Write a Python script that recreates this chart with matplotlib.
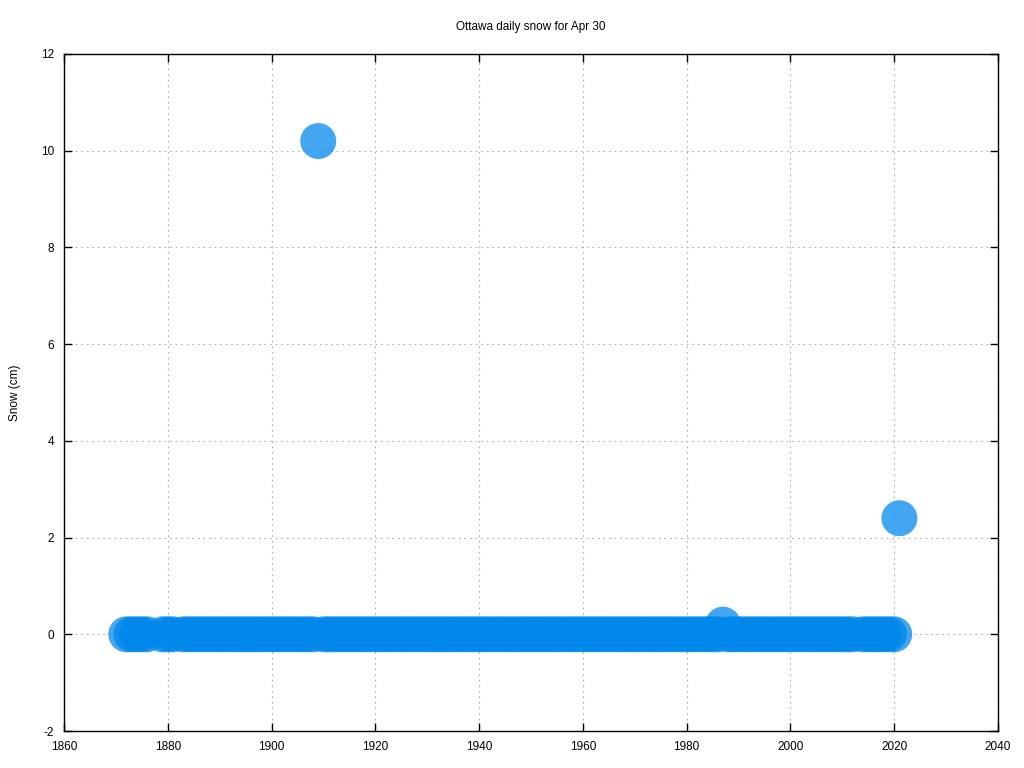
import matplotlib
matplotlib.use("Agg")
import matplotlib.pyplot as plt

zero_years = (list(range(1872, 1877)) + list(range(1879, 1882)) + list(range(1883, 1909))
              + list(range(1910, 1987)) + list(range(1988, 2013)) + list(range(2014, 2021)))
years = zero_years + [1909, 1987, 2021]
snow = [0.0] * len(zero_years) + [10.2, 0.2, 2.4]

xticks = list(range(1860, 2041, 20))
yticks = list(range(-2, 13, 2))

plt.rcParams['font.family'] = ['Liberation Sans', 'DejaVu Sans']
plt.rcParams['axes.unicode_minus'] = False
fig = plt.figure(figsize=(10.24, 7.68), dpi=100)
ax = fig.add_axes([64/1024, 1-731/768, (998-64)/1024, (731-54)/768])
ax.scatter(years, snow, s=670, color=(0/255, 135/255, 235/255), alpha=0.74,
           edgecolors='none', zorder=3)
ax.set_xlim(1860, 2040)
ax.set_ylim(-2, 12)
ax.set_xticks(xticks)
ax.set_yticks(yticks)
ax.tick_params(direction='in', top=True, right=True, labelsize=8.5, length=6, width=1)
ax.tick_params(axis='x', pad=7)
ax.tick_params(axis='y', pad=7)
ax.grid(True, linestyle=(0, (1.5, 3.5)), color='#b0b0b0', linewidth=0.8, zorder=0)
for s in ax.spines.values():
    s.set_linewidth(1)
ax.set_ylabel('Snow (cm)', fontsize=8.5)
ax.yaxis.set_label_coords((21 - 64) / (998 - 64), 0.5)
fig.text(531/1024, 1-27/768, 'Ottawa daily snow for Apr 30', ha='center', va='center', fontsize=8.5)
fig.savefig('out.png', dpi=100)
